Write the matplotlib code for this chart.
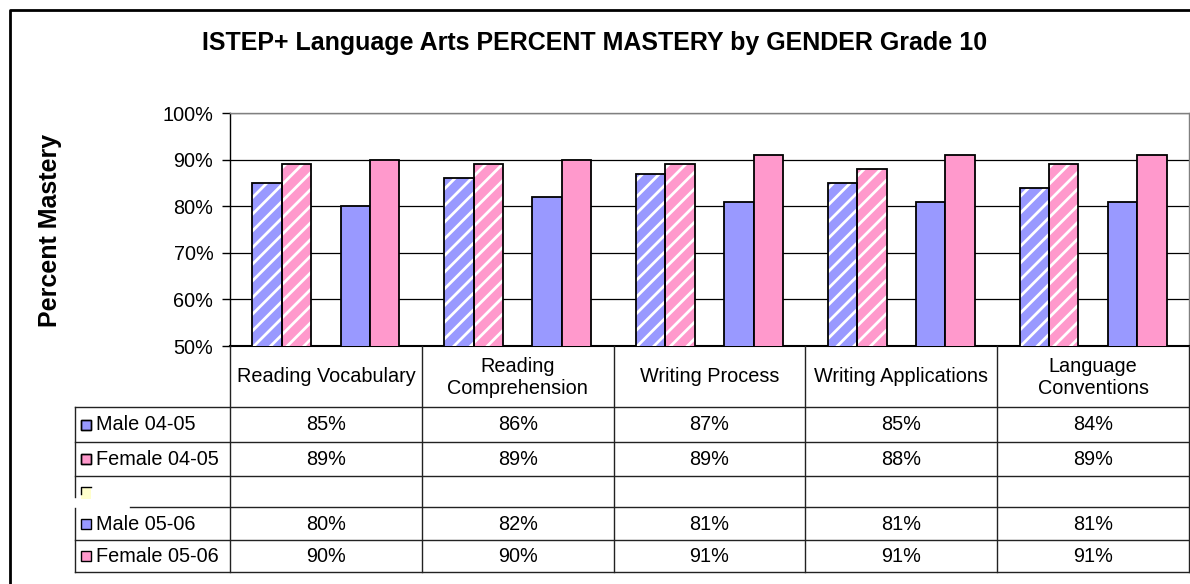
import matplotlib
matplotlib.use("Agg")
import matplotlib.pyplot as plt
from matplotlib.patches import Rectangle
from matplotlib.ticker import FuncFormatter
import numpy as np

plt.rcParams['font.family'] = ['Liberation Sans', 'DejaVu Sans']
plt.rcParams['hatch.linewidth'] = 2.0

# ---------------- data ----------------
categories = ["Reading Vocabulary", "Reading Comprehension", "Writing Process",
              "Writing Applications", "Language Conventions"]
header_labels = ["Reading Vocabulary", "Reading\nComprehension", "Writing Process",
                 "Writing Applications", "Language\nConventions"]
series_names = ["Male 04-05", "Female 04-05", "", "Male 05-06", "Female 05-06"]
male_0405 = [85, 86, 87, 85, 84]
female_0405 = [89, 89, 89, 88, 89]
blank_series = [None, None, None, None, None]
male_0506 = [80, 82, 81, 81, 81]
female_0506 = [90, 90, 91, 91, 91]
yticks = [50, 60, 70, 80, 90, 100]

series_values = [male_0405, female_0405, blank_series, male_0506, female_0506]
BLUE = "#9999FF"
PINK = "#FF99CC"
YELLOW = "#FFFFCC"
series_colors = [BLUE, PINK, YELLOW, BLUE, PINK]
series_hatch = [True, True, False, False, False]

W, H = 1190, 584
fig = plt.figure(figsize=(W / 100, H / 100), dpi=100)

# pixel geometry
px_left, px_right, px_top, px_bottom = 230, 1189, 113, 346
FS = 14.3


def fx(x):
    return x / W


def fy(y):
    return 1 - y / H


ax = fig.add_axes([fx(px_left), fy(px_bottom), fx(px_right - px_left), (px_bottom - px_top) / H])
n = len(categories)
xc = np.arange(n)
bw = 29.4 / ((px_right - px_left) / n)

for k, (vals, col, hat) in enumerate(zip(series_values, series_colors, series_hatch)):
    if all(v is None for v in vals):
        continue
    xs = xc + (k - 2) * bw
    if hat:
        ax.bar(xs, vals, bw, color=col, edgecolor="white", linewidth=0, hatch="//", zorder=3)
        ax.bar(xs, vals, bw, fill=False, edgecolor="black", linewidth=1.3, zorder=4)
    else:
        ax.bar(xs, vals, bw, color=col, edgecolor="black", linewidth=1.3, zorder=3)

ax.set_xlim(-0.5, n - 0.5)
ax.set_ylim(50, 100)
ax.set_yticks(yticks)
ax.yaxis.set_major_formatter(FuncFormatter(lambda v, p: f"{int(v)}%"))
ax.tick_params(axis="y", length=6, width=1, labelsize=FS, pad=6, colors="black")
ax.set_xticks([])
ax.yaxis.grid(True, color="black", linewidth=0.9, zorder=0)
ax.set_axisbelow(True)
for s in ["top", "right"]:
    ax.spines[s].set_color("#808080")
    ax.spines[s].set_linewidth(1)
ax.spines["left"].set_color("black")
ax.spines["bottom"].set_color("black")
ax.spines["left"].set_linewidth(1)
ax.spines["bottom"].set_linewidth(1.5)

# ---------------- overlay for table, title, borders ----------------
ov = fig.add_axes([0, 0, 1, 1], zorder=5)
ov.set_xlim(0, W)
ov.set_ylim(H, 0)
ov.axis("off")
ov.patch.set_visible(False)

# outer border
ov.plot([10, 10, W], [H, 10, 10], color="black", lw=2, solid_capstyle="butt")

ov.text(595, 43, "ISTEP+ Language Arts PERCENT MASTERY by GENDER Grade 10",
        ha="center", va="center", fontsize=18, fontweight="bold")
ov.text(50, 230, "Percent Mastery", rotation=90, ha="center", va="center",
        fontsize=18, fontweight="bold")

# table geometry
col_edges = np.linspace(px_left, 1189, n + 1)
row_edges = [407, 442, 476, 507, 540, 572]
leg_left = 75
LC = "#222222"
lw = 1

for xe in col_edges:
    ov.plot([xe, xe], [px_bottom, row_edges[-1]], color=LC, lw=lw)
for i, ye in enumerate(row_edges):
    x0 = leg_left
    if i == 3:
        x0 = 130
    ov.plot([x0, 1189], [ye, ye], color=LC, lw=lw)
ov.plot([leg_left, leg_left], [row_edges[0], 497], color=LC, lw=lw)
ov.plot([leg_left, leg_left], [508, row_edges[-1]], color=LC, lw=lw)

# header labels
for i, lab in enumerate(header_labels):
    cx = (col_edges[i] + col_edges[i + 1]) / 2
    ov.text(cx, 377, lab, ha="center", va="center", fontsize=FS, linespacing=1.2)

# rows
for r, (name, vals, col, hat) in enumerate(zip(series_names, series_values, series_colors, series_hatch)):
    cy = (row_edges[r] + row_edges[r + 1]) / 2
    if name:
        ov.add_patch(Rectangle((81, cy - 5), 10, 10, facecolor=col, edgecolor="black", lw=1,
                               hatch="/" if hat else None))
        if hat:
            ov.add_patch(Rectangle((81, cy - 5), 10, 10, fill=False, edgecolor="black", lw=1))
        ov.text(96, cy + 0.5, name, ha="left", va="center", fontsize=FS)
    else:
        ov.add_patch(Rectangle((81, cy - 5), 10, 12, facecolor=col, edgecolor="none"))
        ov.plot([81, 81, 91], [cy + 2, cy - 5, cy - 5], color="black", lw=1)
    for i, v in enumerate(vals):
        if v is None:
            continue
        cx = (col_edges[i] + col_edges[i + 1]) / 2
        ov.text(cx, cy + 0.5, f"{v}%", ha="center", va="center", fontsize=FS)

fig.savefig("out.png", dpi=100)
